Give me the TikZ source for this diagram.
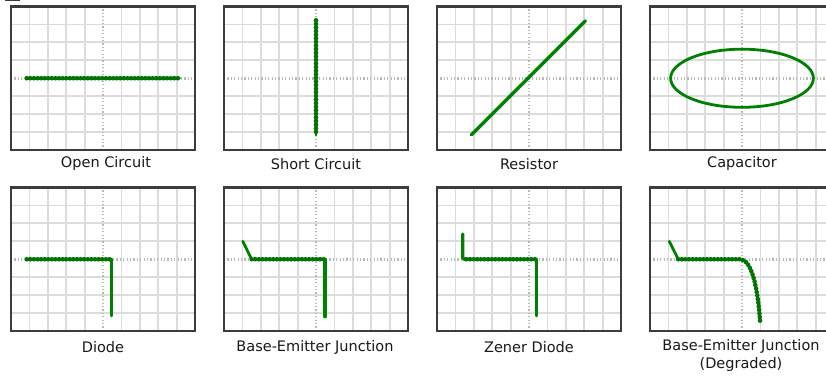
\documentclass[tikz,border=0pt]{standalone}
\usepackage{fontspec}
\setmainfont{DejaVu Sans}
\definecolor{trace}{RGB}{0,128,0}
\definecolor{gridc}{RGB}{220,220,220}
\definecolor{axisc}{RGB}{185,185,185}
\definecolor{framec}{RGB}{60,60,60}
\tikzset{
  gridline/.style={draw=gridc, line width=1.8pt},
  axisline/.style={draw=axisc, line width=2.6pt, dash pattern=on 1.2pt off 2.2pt},
  frameline/.style={draw=framec, line width=2.2pt},
  solidtrace/.style={draw=trace, line width=3.4pt, line cap=round, line join=round},
  slanttrace/.style={draw=trace, line width=2.8pt, line cap=round, line join=round},
  beadbase/.style={draw=trace, line width=2.2pt, line cap=round, line join=round},
  beads/.style={draw=trace!90!black, line width=4.6pt, line cap=round, dash pattern=on 0pt off 3.6pt},
  lab/.style={font=\fontsize{14.5}{18}\selectfont, text=black!90, align=center, inner sep=0pt},
  panel/.style={x=18.4pt, y=17.94pt},
}
\newcommand\panelgrid{%
  \foreach \i in {1,2,3,4,6,7,8,9} \draw[gridline] (\i,0) -- (\i,8);
  \foreach \j in {1,2,3,5,6,7} \draw[gridline] (0,\j) -- (10,\j);
  \draw[axisline] (5,0) -- (5,8);
  \draw[axisline] (0,4) -- (10,4);
  \draw[frameline] (0,0) rectangle (10,8);
}
\newcommand\beadpath[1]{\draw[beadbase] #1; \draw[beads] #1;}
\begin{document}
\begin{tikzpicture}
\useasboundingbox (0,0) rectangle (826pt,382pt);
\clip (0,0) rectangle (826pt,382pt);
\fill[white] (0,0) rectangle (826pt,382pt);
\draw[framec, line width=1pt] (5pt,381.2pt) -- (20pt,381.2pt);

% Open circuit
\begin{scope}[shift={(11pt,232pt)}, panel]
  \panelgrid
  \beadpath{(0.85,4) -- (9.18,4)}
\end{scope}
% Short circuit
\begin{scope}[shift={(224pt,232pt)}, panel]
  \panelgrid
  \beadpath{(5,7.23) -- (5,0.81)}
\end{scope}
% Resistor
\begin{scope}[shift={(437pt,232pt)}, panel]
  \panelgrid
  \draw[solidtrace] (1.87,0.85) -- (8.07,7.2);
\end{scope}
% Capacitor
\begin{scope}[shift={(650pt,232pt)}, panel]
  \panelgrid
  \draw[trace, line width=2.8pt] (5,4) ellipse [x radius=3.88, y radius=1.62];
\end{scope}
% Diode
\begin{scope}[shift={(11pt,51pt)}, panel]
  \panelgrid
  \beadpath{(0.85,4) -- (5.47,4)}
  \draw[solidtrace] (5.47,4) -- (5.47,0.85);
\end{scope}
% Base-emitter junction
\begin{scope}[shift={(224pt,51pt)}, panel]
  \panelgrid
  \draw[slanttrace] (1.02,5) -- (1.5,4);
  \beadpath{(1.5,4) -- (5.49,4)}
  \draw[solidtrace] (5.49,4) -- (5.49,0.8);
\end{scope}
% Zener
\begin{scope}[shift={(437pt,51pt)}, panel]
  \panelgrid
  \draw[solidtrace, rounded corners=2pt] (1.4,5.4) -- (1.4,4) -- (1.7,4);
  \beadpath{(1.6,4) -- (5.42,4)}
  \draw[solidtrace] (5.42,4) -- (5.42,0.85);
\end{scope}
% Degraded
\begin{scope}[shift={(650pt,51pt)}, panel]
  \panelgrid
  \draw[slanttrace] (1.05,5) -- (1.53,4);
  \beadpath{(1.53,4) -- (4.9,4) .. controls (5.5,4) and (5.85,2.5) .. (5.98,0.57)}
\end{scope}

\node[lab] (l1) at (106pt,218pt) {Open Circuit};
\node[lab] (l2) at (316pt,218pt) {Short Circuit};
\node[lab] (l3) at (529pt,218pt) {Resistor};
\node[lab] (l4) at (742pt,218pt) {Capacitor};
\node[lab] (l5) at (103pt,35pt) {Diode};
\node[lab] (l6) at (315pt,35pt) {Base-Emitter Junction};
\node[lab] (l7) at (529pt,35pt) {Zener Diode};
\node[lab] (l8) at (741pt,26pt) {Base-Emitter Junction\\(Degraded)};
\end{tikzpicture}
\end{document}
